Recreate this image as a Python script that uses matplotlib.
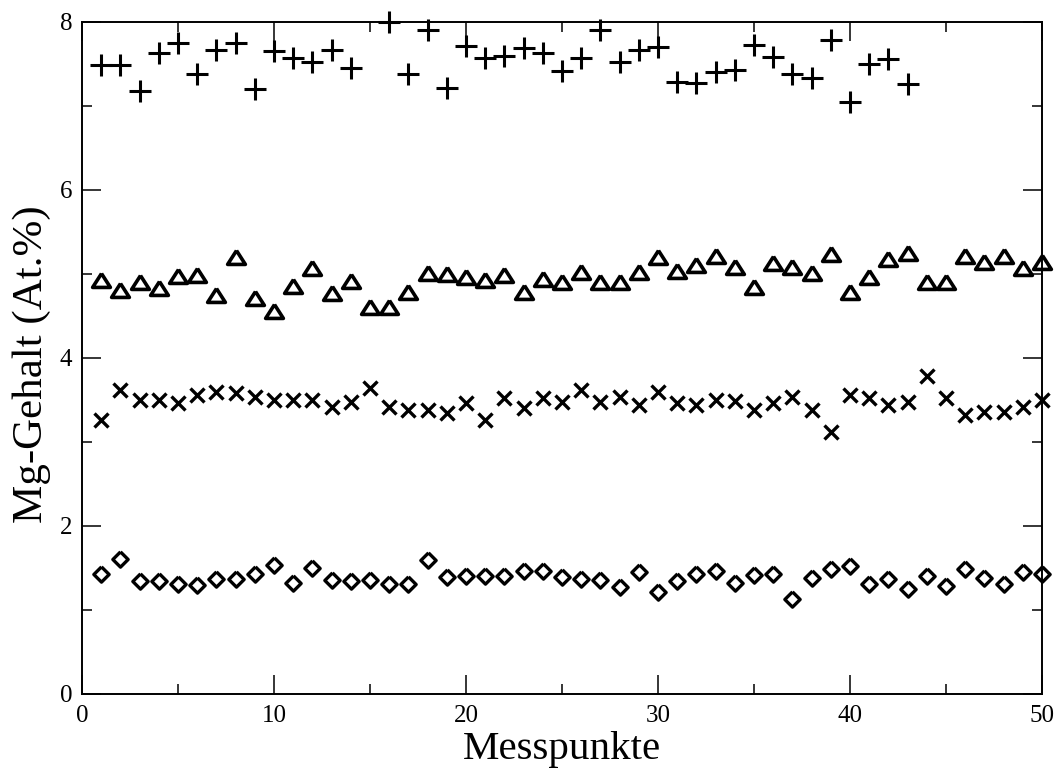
import numpy as np
import matplotlib
matplotlib.use("Agg")
import matplotlib.pyplot as plt
from matplotlib.ticker import MultipleLocator

nan = np.nan
x = list(range(1, 51))

plus_vals = [7.49, 7.49, 7.18, 7.63, 7.75, 7.38, 7.67, 7.75, 7.20, 7.66,
             7.57, 7.52, 7.67, 7.45, nan, 8.00, 7.38, 7.90, 7.22, 7.71,
             7.57, 7.60, 7.69, 7.63, 7.42, 7.57, 7.90, 7.52, 7.67, 7.70,
             7.29, 7.27, 7.40, 7.43, 7.73, 7.58, 7.38, 7.33, 7.79, 7.05,
             7.50, 7.56, 7.26, nan, nan, nan, nan, nan, nan, nan]

tri_vals = [4.93, 4.81, 4.91, 4.83, 4.98, 4.99, 4.75, 5.20, 4.71, 4.56,
            4.86, 5.07, 4.77, 4.92, 4.61, 4.61, 4.79, 5.01, 5.00, 4.97,
            4.93, 4.99, 4.78, 4.94, 4.90, 5.02, 4.91, 4.90, 5.02, 5.20,
            5.03, 5.11, 5.21, 5.08, 4.85, 5.13, 5.08, 5.01, 5.24, 4.79,
            4.97, 5.18, 5.25, 4.90, 4.90, 5.21, 5.14, 5.21, 5.07, 5.14]

cross_vals = [3.26, 3.62, 3.50, 3.50, 3.46, 3.56, 3.59, 3.58, 3.54, 3.50,
              3.50, 3.50, 3.42, 3.48, 3.64, 3.42, 3.38, 3.38, 3.34, 3.46,
              3.26, 3.52, 3.40, 3.52, 3.48, 3.62, 3.48, 3.54, 3.44, 3.59,
              3.46, 3.44, 3.50, 3.49, 3.38, 3.46, 3.54, 3.38, 3.12, 3.56,
              3.52, 3.44, 3.48, 3.78, 3.52, 3.32, 3.36, 3.36, 3.42, 3.50]

diam_vals = [1.43, 1.61, 1.35, 1.35, 1.31, 1.30, 1.37, 1.37, 1.43, 1.54,
             1.32, 1.50, 1.36, 1.34, 1.36, 1.31, 1.31, 1.59, 1.39, 1.41,
             1.40, 1.41, 1.47, 1.47, 1.39, 1.37, 1.36, 1.27, 1.45, 1.21,
             1.35, 1.43, 1.47, 1.32, 1.42, 1.43, 1.13, 1.38, 1.49, 1.52,
             1.31, 1.37, 1.25, 1.41, 1.29, 1.49, 1.38, 1.31, 1.45, 1.43]

x_label = "Messpunkte"
y_label = "Mg-Gehalt (At.%)"

plt.rcParams['font.family'] = ['Liberation Serif', 'DejaVu Serif']

fig = plt.figure(figsize=(10.61, 7.70), dpi=100)
ax = fig.add_axes([82/1061, 1-694/770, (1042-82)/1061, (694-22)/770])

tri_marker = [(0, 0.78), (-1, -0.78), (1, -0.78), (0, 0.78)]
diam_marker = [(0, 1), (1, 0), (0, -1), (-1, 0), (0, 1)]

ax.plot(x, plus_vals, linestyle='none', marker='+', ms=15.5, mew=2.2, color='black', clip_on=False)
ax.plot(x, tri_vals, linestyle='none', marker=tri_marker, ms=12.8, mew=2.6,
        mfc='none', mec='black', clip_on=False)
ax.plot(x, cross_vals, linestyle='none', marker='x', ms=10, mew=2.4, color='black', clip_on=False)
ax.plot(x, diam_vals, linestyle='none', marker=diam_marker, ms=11, mew=2.4,
        mfc='none', mec='black', clip_on=False)

ax.set_xlim(0, 50)
ax.set_ylim(0, 8)
ax.xaxis.set_major_locator(MultipleLocator(10))
ax.xaxis.set_minor_locator(MultipleLocator(5))
ax.yaxis.set_major_locator(MultipleLocator(2))
ax.yaxis.set_minor_locator(MultipleLocator(1))

ax.tick_params(which='both', direction='in', top=True, right=True, width=1.1, labelsize=18)
ax.tick_params(which='major', length=13.5)
ax.tick_params(which='minor', length=7)
ax.tick_params(axis='x', which='major', pad=8)
ax.tick_params(axis='y', which='major', pad=7)
for s in ax.spines.values():
    s.set_linewidth(1.4)

ax.set_xlabel(x_label, fontsize=29.5, labelpad=3)
ax.set_ylabel(y_label, fontsize=31)
ax.yaxis.set_label_coords(-0.0327, 0.491)

fig.savefig("out.png", dpi=100)
